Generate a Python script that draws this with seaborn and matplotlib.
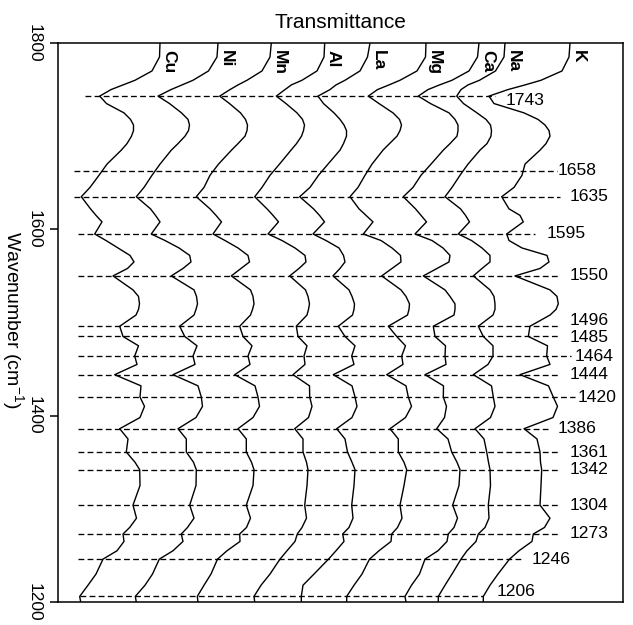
import matplotlib
matplotlib.use("Agg")
import matplotlib.pyplot as plt
import pandas as pd
import seaborn as sns

# ---------------- data ----------------
wavenumber = [1800, 1785, 1770, 1760, 1755, 1750, 1743, 1735, 1725, 1718, 1712, 1706, 1700,
              1692, 1685, 1670, 1658, 1645, 1635, 1622, 1615, 1608, 1595, 1588, 1580, 1572,
              1565, 1558, 1550, 1535, 1528, 1520, 1514, 1508, 1496, 1485, 1475, 1464, 1455,
              1444, 1432, 1420, 1410, 1398, 1386, 1375, 1361, 1350, 1342, 1325, 1304, 1290,
              1280, 1273, 1265, 1255, 1246, 1230, 1218, 1206, 1200]

# offset transmittance (arbitrary units), one vertical trace per cation
cu = [160, 159.5, 152, 135, 123, 111, 99.7, 106.5, 124, 130.5, 133.5, 133.5, 131.5, 127,
      121.3, 107, 99, 90, 81.3, 90.5, 96, 102, 94.7, 106, 118, 130, 134, 127.5, 113, 133,
      138.5, 139.5, 138.5, 136, 119.7, 123, 138.5, 134.7, 137, 114.7, 141, 140, 144.5, 140,
      119.7, 128, 126.3, 135, 139.7, 140, 133, 136.5, 129.7, 123, 124, 117, 103, 96, 88,
      79.7, 80.7]
ni = [218, 217, 208.5, 193, 182, 171, 158, 169.5, 181.5, 188, 189.5, 188.5, 185, 178, 171.3,
      160, 152, 144, 136.3, 150.5, 155.5, 160, 151.3, 165, 179, 189.7, 191, 183, 171.3, 194,
      196.5, 197.5, 196, 194, 179.7, 184.7, 197, 193, 195, 173, 198, 201.3, 202.5, 196, 178,
      186.3, 186.3, 193.5, 196.3, 196, 189.7, 194, 187.5, 181.3, 183, 173, 159.3, 152.5, 145,
      135.3, 136.3]
mn = [271.3, 270, 262, 247, 238, 230, 219.7, 229.5, 240.5, 245.5, 247.5, 247, 245, 238,
      231.5, 218.5, 210, 204, 196.3, 210, 216, 221.5, 213, 225, 238, 248, 249.5, 241, 231.3,
      250.5, 253, 254, 252.5, 250.5, 239.7, 243, 252, 248, 250, 234.7, 255, 258, 259.5, 253,
      238, 246.3, 246.3, 251.5, 254, 253, 246.3, 250.5, 246.5, 239.7, 240, 227, 217.5, 211,
      204, 197.3, 198]
al = [324.7, 324, 317, 302, 291.3, 285, 276.3, 286, 297, 302.5, 304.5, 303.5, 301.5, 296.5,
      291, 279.5, 270, 262, 254.7, 267, 273, 278.5, 268, 282, 295, 305, 306, 299, 289.7,
      305.5, 308, 309.5, 308.5, 307, 296.3, 298, 307, 304, 305, 293, 309.5, 309.7, 312, 308.5,
      294.7, 303, 303, 306.5, 308, 307, 304.7, 306.5, 302, 297.3, 295, 287, 280, 270, 261,
      254, 254.7]
la = [370, 367.5, 360, 345, 336, 330, 318, 323.5, 334, 340, 344, 346.5, 346.5, 343.5, 340,
      328, 318.5, 310, 299.7, 313.5, 319.5, 324.5, 313, 326, 339, 343.5, 345, 340, 333, 349,
      352, 354.5, 354, 352.5, 338.3, 345, 355, 351.7, 354, 333.3, 352, 355, 357, 352, 336.7,
      345, 347.5, 352, 355, 354, 351.7, 353, 349, 342.7, 344, 336, 328.5, 314, 303, 301.3,
      301.3]
mg = [426, 425.5, 417, 400, 389, 377.5, 368.3, 379, 393, 399.5, 401.5, 400, 397, 389.5, 383,
      372, 365, 358, 350, 359, 366, 373, 363.3, 381, 392, 400.5, 401, 392, 381.7, 401, 406,
      409.5, 409, 407.5, 388.3, 396.7, 405.5, 401.7, 403, 386.7, 406, 408.3, 411.5, 405.5,
      390, 398.3, 398.3, 404, 406.7, 404, 400, 402, 397.5, 391.7, 391, 379, 369.5, 362, 354,
      346.7, 346.7]
ca = [479, 477.5, 469, 452, 439.5, 428, 418.3, 430.5, 449, 455, 458, 458, 457, 450, 443.3,
      431, 421, 413, 403.3, 415.5, 421, 426.5, 415, 432, 443, 450, 449, 437, 423.3, 445, 450,
      455, 455, 454, 433.3, 435, 445.5, 445, 446, 425, 443.5, 443.3, 446.5, 444.5, 436.7, 448,
      451.7, 457, 460, 459, 452.7, 457.5, 454, 448.3, 447, 438, 425, 419.5, 411.5, 405, 406]
na = [505, 504, 495.5, 479.5, 468, 461, 456.7, 463.5, 477, 486, 490.5, 491.5, 491, 487, 480,
      468, 460, 452, 445, 460.5, 465.5, 469.5, 458.3, 471.5, 482, 490, 490, 482, 473.3, 490,
      494, 495, 495, 493, 478.3, 483.3, 493, 493, 488, 473.3, 491.5, 493.3, 495, 490.5, 475,
      484, 486.7, 488.5, 490, 490.5, 488.3, 489, 485, 478.3, 476, 467, 461, 452, 445, 438.3,
      438.3]
k = [570, 569, 562, 541, 525, 508, 489, 494, 524, 538, 545, 549, 550, 546, 540, 525, 522,
     514, 501.7, 509, 520, 523.3, 506.7, 509, 522, 547, 549, 540, 515, 550, 557, 558.3, 556,
     550, 530, 528.3, 547.5, 546.7, 550, 520, 548.5, 553.3, 557.5, 553, 524, 537, 540, 540.5,
     541.7, 541, 540, 550, 544.5, 533.3, 532, 519, 509.5, 498, 490, 483.3, 483.3]

metals = ["Cu", "Ni", "Mn", "Al", "La", "Mg", "Ca", "Na", "K"]
traces = [cu, ni, mn, al, la, mg, ca, na, k]
for _name, _vals in zip(metals, traces):
    if len(_vals) != len(wavenumber):
        raise ValueError(f"{_name}: {len(_vals)} values vs {len(wavenumber)}")

band_positions = [1743, 1663, 1635, 1595, 1550, 1496, 1485, 1464, 1444, 1420, 1386, 1361,
                  1342, 1304, 1273, 1246, 1206]
band_labels = ["1743", "1658", "1635", "1595", "1550", "1496", "1485", "1464", "1444",
               "1420", "1386", "1361", "1342", "1304", "1273", "1246", "1206"]
y_ticks = [1200, 1400, 1600, 1800]

# ---------------- layout (not data) ----------------
line_start = [85, 74, 74, 78, 78, 78, 78, 78, 78, 78, 78, 78, 78, 78, 78, 78, 80]
line_end = [495, 557, 560, 535, 560, 560, 560, 571, 560, 575, 548, 560, 560, 560, 560, 522, 483]
label_x = [506, 558, 570, 547, 570, 570, 570, 575, 570, 578, 558, 570, 570, 570, 570, 532, 497]
label_dy = [-4.5, 0, 0, 0, 0, 6.0, -1.5, 0, 0, 0, 0, 0, 0, 0, 0, 0, 8.5]

sns.set_theme(style="ticks")
plt.rcParams["font.family"] = ["Liberation Sans", "DejaVu Sans"]
plt.rcParams["mathtext.fontset"] = "custom"
plt.rcParams["mathtext.rm"] = "Liberation Sans"
plt.rcParams["axes.edgecolor"] = "black"
plt.rcParams["text.color"] = "black"
plt.rcParams["ytick.color"] = "black"
plt.rcParams["ytick.labelcolor"] = "black"

W, H = 633, 625
fig = plt.figure(figsize=(W / 100, H / 100), dpi=100)
ax = fig.add_axes([58 / W, 1 - 602 / H, 565 / W, 559 / H])

rows = []
for name, vals in zip(metals, traces):
    for w, t in zip(wavenumber, vals):
        rows.append({"metal": name, "wavenumber": w, "transmittance": t})
df = pd.DataFrame(rows)

sns.lineplot(data=df, x="transmittance", y="wavenumber", hue="metal", hue_order=metals,
             palette=["black"] * len(metals), sort=False, estimator=None, legend=False,
             linewidth=1.0, ax=ax)
for ln in ax.lines:
    ln.set_solid_joinstyle("round")
    ln.set_solid_capstyle("round")

for pos, lab, x0, x1, lx, dy in zip(band_positions, band_labels, line_start, line_end,
                                     label_x, label_dy):
    ax.plot([x0, x1], [pos, pos], color="black", lw=0.95, dashes=(4.4, 2.5))
    if dy > 7:
        ax.text(lx, pos, lab, fontsize=12.6, ha="left", va="baseline")
    else:
        ax.text(lx, pos + dy, lab, fontsize=12.6, ha="left", va="center")

for name, vals in zip(metals, traces):
    ax.text(vals[0] + 1.0, 1792.5, name, rotation=-90, fontsize=12.5, fontweight="bold",
            ha="left", va="top")

ax.set_xlim(58, 623)
ax.set_ylim(1200, 1800)
ax.set_xticks([])
ax.set_yticks(y_ticks)
ax.set_yticklabels([str(v) for v in y_ticks], rotation=-90, va="center", fontsize=12.5)
ax.tick_params(axis="y", direction="out", length=6, width=1.1, pad=5.5)
ax.set_xlabel("")
ax.set_ylabel("")
for s in ax.spines.values():
    s.set_linewidth(1.1)
    s.set_color("black")
ax.set_title("Transmittance", fontsize=15, pad=11)

fig.text(12 / W, 1 - 320 / H, "Wavenumber (cm$^{\\mathregular{-1}}$)", rotation=-90,
         fontsize=14, ha="center", va="center")

fig.savefig("out.png", dpi=100)
